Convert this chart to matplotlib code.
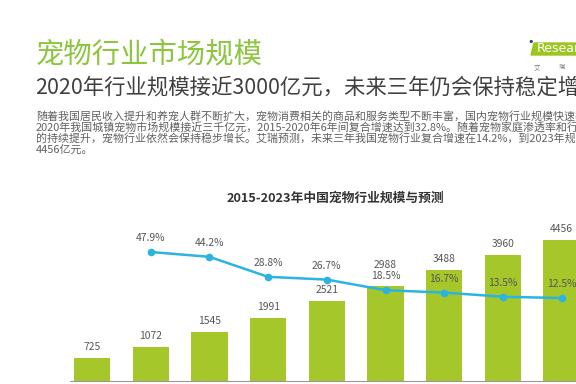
import matplotlib
matplotlib.use('Agg')
import matplotlib.pyplot as plt
from matplotlib.patches import Polygon

plt.rcParams['font.family'] = ['Noto Sans CJK SC', 'DejaVu Sans']

# 数据
years = ['2015', '2016', '2017', '2018', '2019', '2020', '2021e', '2022e', '2023e']
scale = [725, 1072, 1545, 1991, 2521, 2988, 3488, 3960, 4456]   # 亿元
growth = [47.9, 44.2, 28.8, 26.7, 18.5, 16.7, 13.5, 12.5]        # 2016-2023 增速 %

head = '宠物行业市场规模'
sub = '2020年行业规模接近3000亿元，未来三年仍会保持稳定增长'
body = ['随着我国居民收入提升和养宠人群不断扩大，宠物消费相关的商品和服务类型不断丰富，国内宠物行业规模快速扩张。',
        '2020年我国城镇宠物市场规模接近三千亿元，2015-2020年6年间复合增速达到32.8%。随着宠物家庭渗透率和行业成熟度',
        '的持续提升，宠物行业依然会保持稳步增长。艾瑞预测，未来三年我国宠物行业复合增速在14.2%，到2023年规模将达到',
        '4456亿元。']
chart_title = '2015-2023年中国宠物行业规模与预测'

W, H = 576, 384
fig = plt.figure(figsize=(W / 100, H / 100), dpi=100)

def fx(px):
    return px / W

def fy(py):
    return 1 - py / H

# 页面标题
fig.text(fx(36), fy(54), head, color='#8cc63e', fontsize=20.4, va='center', ha='left')
fig.text(fx(35), fy(88), sub, color='#404040', fontsize=15.4, va='center', ha='left')
for i, line in enumerate(body):
    fig.text(fx(36), fy(116 + 11.2 * i), line, color='#606060', fontsize=7.9, va='center', ha='left')

# logo
logo = Polygon([[fx(531), fy(55)], [fx(534), fy(43)], [fx(600), fy(43)], [fx(597), fy(55)]],
               closed=True, transform=fig.transFigure, color='#9cc520', zorder=1)
fig.patches.append(logo)
fig.text(fx(537), fy(49), 'Research', color='white', fontsize=9, va='center', ha='left',
         family=['DejaVu Sans'], zorder=2)
fig.text(fx(531), fy(42), '•', color='#1f3a6b', fontsize=8, va='center', ha='center', family=['DejaVu Sans'])
fig.text(fx(534), fy(67), '艾', color='#777777', fontsize=4.5, va='center', ha='left')
fig.text(fx(559), fy(67), '瑞', color='#777777', fontsize=4.5, va='center', ha='left')

fig.text(fx(335), fy(198), chart_title, color='#333333', fontsize=9.2, fontweight='bold',
         va='center', ha='center')

# 图表
ax = fig.add_axes([fx(70), 3 / H, 550 / W, 181 / H])
x = list(range(len(years)))
ax.bar(x, scale, width=0.62, color='#a6c72a', zorder=2)
ax.set_xlim(-0.375, 8.995)
ax.set_ylim(0, 181 / 0.0317)
for s in ['top', 'right', 'left']:
    ax.spines[s].set_visible(False)
ax.spines['bottom'].set_color('#999999')
ax.spines['bottom'].set_linewidth(0.8)
ax.set_xticks([])
ax.set_yticks([])
ax.patch.set_alpha(0)

for i, v in enumerate(scale):
    off = 15 if v == 2988 else 8
    ax.annotate(str(v), (i, v), xytext=(0, off), textcoords='offset points',
                ha='center', va='center', fontsize=7.4, color='#555555')

ax2 = ax.twinx()
ax2.plot(x[1:], growth, color='#2bb4e2', lw=1.8, marker='o', ms=4.5, zorder=3)
ax2.set_ylim(-51.3, 87.9)
ax2.axis('off')
for i, g in zip(x[1:], growth):
    ax2.annotate('%.1f%%' % g, (i, g), xytext=(0, 10), textcoords='offset points',
                 ha='center', va='center', fontsize=7.4, color='#555555')

fig.savefig('out.png', dpi=100)
